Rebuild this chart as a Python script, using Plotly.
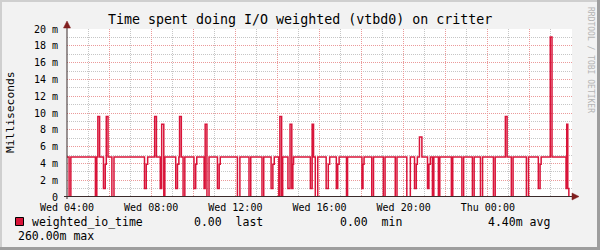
import plotly.graph_objects as go
import pandas as pd

# ---------------- data ----------------
START = "2024-01-03 04:00"  # a Wednesday
# step change points: minutes after start, value (milliseconds)
change_minutes = [
    0, 6, 11, 81, 85, 88, 93, 104, 109, 112, 117, 128, 134, 221, 226, 230, 250, 255,
    266, 270, 276, 279, 310, 315, 319, 321, 326, 331, 336, 362, 367, 370, 391, 394,
    399, 405, 429, 434, 437, 486, 493, 519, 524, 556, 561, 582, 587, 591, 604, 607,
    612, 615, 630, 636, 641, 644, 646, 694, 699, 703, 708, 715, 739, 745, 749, 768,
    772, 776, 797, 800, 841, 844, 847, 869, 874, 902, 907, 936, 941, 969, 979, 991,
    996, 999, 1005, 1012, 1028, 1032, 1036, 1042, 1046, 1059, 1063, 1096, 1100, 1126,
    1131, 1156, 1161, 1179, 1185, 1216, 1221, 1250, 1255, 1267, 1272, 1310, 1316,
    1344, 1349, 1352, 1378, 1383, 1423, 1425, 1428, 1431, 1440,
]
change_values = [
    4.75, 0, 4.75, 0, 4.75, 9.57, 4.75, 1.0, 3.9, 9.57, 4.75, 0, 4.75, 1.0, 3.9, 4.75, 9.57, 4.75,
    1.0, 8.65, 0, 4.75, 1.0, 3.9, 4.75, 9.57, 4.75, 0, 4.75, 1.0, 3.9, 4.75, 1.0, 8.65,
    0, 4.75, 1.0, 3.9, 4.75, 0, 4.75, 0, 4.75, 0, 4.75, 1.0, 3.9, 4.75, 0, 9.57,
    0, 4.75, 1.0, 8.65, 1.0, 3.9, 4.75, 1.0, 8.65, 4.75, 0, 4.75, 1.0, 3.9, 4.75, 1.0,
    3.9, 4.75, 0, 4.75, 1.0, 3.9, 4.75, 0, 4.75, 0, 4.75, 0, 4.75, 0, 4.75, 1.0,
    3.9, 4.75, 7.14, 4.75, 1.0, 3.9, 4.75, 0, 4.75, 0, 4.75, 0, 4.75, 0,
    4.75, 0, 4.75, 0, 4.75, 0, 4.75, 9.57, 4.75, 0, 4.75, 0, 4.75,
    1.0, 3.9, 4.75, 19.05, 4.75, 1.0, 8.65, 1.0, 0, 0,
]
x_tick_hours = [0, 2, 4, 6, 8, 10, 12, 14, 16, 18, 20, 22]
x_tick_labels = ["Wed 04:00", "", "Wed 08:00", "", "Wed 12:00", "", "Wed 16:00", "",
                 "Wed 20:00", "", "Thu 00:00", ""]
y_tick_values = [0, 2, 4, 6, 8, 10, 12, 14, 16, 18, 20]
y_tick_labels = ["0", "2 m", "4 m", "6 m", "8 m", "10 m", "12 m", "14 m", "16 m", "18 m", "20 m"]

series_name = "weighted_io_time"
stat_values = ["0.00", "0.00", "4.40m", "260.00m"]
stat_names = ["last", "min", "avg", "max"]

# ---------------- figure ----------------
W, H = 600, 250
ML, MR, MT, MB = 67, 28, 29, 53
PW, PH = W - ML - MR, H - MT - MB


def X(px):
    return (px - ML) / PW


def Y(py):
    return (H - MB - py) / PH


base = pd.Timestamp(START)
times = [base + pd.Timedelta(minutes=m) for m in change_minutes]

LINE_COL = "#d81439"
MONO = "DejaVu Sans Mono"
MGRID = "#eb9a9a"
GRID = "#c6c6c6"

fig = go.Figure()
fig.add_trace(go.Scatter(
    x=times, y=change_values, mode="lines",
    line=dict(color=LINE_COL, width=1.5, shape="hv"),
    hoverinfo="skip", showlegend=False,
))

fig.update_layout(
    width=W, height=H,
    margin=dict(l=ML, r=MR, t=MT, b=MB, pad=0),
    paper_bgcolor="#f2f2f2", plot_bgcolor="#ffffff",
    showlegend=False,
    font=dict(family=MONO, size=10, color="#000000"),
)

fig.update_xaxes(
    type="date",
    range=[base, base + pd.Timedelta(hours=24)],
    tickvals=[base + pd.Timedelta(hours=h) for h in x_tick_hours],
    ticktext=x_tick_labels,
    ticks="outside", ticklen=1, tickcolor="rgba(0,0,0,0)",
    showgrid=True, gridcolor=MGRID, griddash="1px,1px", gridwidth=1,
    minor=dict(dtick=3600000, tick0=base, showgrid=True, gridcolor=GRID,
               griddash="1px,1px", gridwidth=1),
    showline=False, zeroline=False,
    tickfont=dict(family=MONO, size=10, color="#000000"),
    fixedrange=True,
)
fig.update_yaxes(
    range=[0, 20],
    tickvals=y_tick_values, ticktext=y_tick_labels,
    ticks="outside", ticklen=6, tickcolor="rgba(0,0,0,0)",
    showgrid=True, gridcolor=MGRID, griddash="1px,1px", gridwidth=1,
    minor=dict(dtick=1, showgrid=True, gridcolor=GRID, griddash="1px,1px", gridwidth=1),
    showline=False, zeroline=False,
    tickfont=dict(family=MONO, size=10, color="#000000"),
    fixedrange=True,
)

shapes = []
# frame shading
shapes.append(dict(type="rect", xref="paper", yref="paper", x0=X(0), x1=X(600), y0=Y(2), y1=Y(0),
                   fillcolor="#cfcfcf", line=dict(width=0), layer="below"))
shapes.append(dict(type="rect", xref="paper", yref="paper", x0=X(0), x1=X(2), y0=Y(250), y1=Y(0),
                   fillcolor="#cfcfcf", line=dict(width=0), layer="below"))
shapes.append(dict(type="rect", xref="paper", yref="paper", x0=X(597), x1=X(600), y0=Y(250), y1=Y(0),
                   fillcolor="#9e9e9e", line=dict(width=0), layer="below"))
shapes.append(dict(type="rect", xref="paper", yref="paper", x0=X(0), x1=X(600), y0=Y(250), y1=Y(247),
                   fillcolor="#9e9e9e", line=dict(width=0), layer="below"))
# axes
AXIS = "#3a2a2a"
ARROW = "#801f1f"
shapes.append(dict(type="line", xref="paper", yref="paper", x0=X(67), x1=X(67), y0=Y(199), y1=Y(25),
                   line=dict(color=AXIS, width=1)))
shapes.append(dict(type="line", xref="paper", yref="paper", x0=X(64), x1=X(574), y0=Y(196.5), y1=Y(196.5),
                   line=dict(color=AXIS, width=1)))
# arrow heads
shapes.append(dict(type="path", xref="paper", yref="paper",
                   path=f"M {X(63.5)},{Y(28)} L {X(70.5)},{Y(28)} L {X(67)},{Y(21)} Z",
                   fillcolor=ARROW, line=dict(color=ARROW, width=0.5)))
shapes.append(dict(type="path", xref="paper", yref="paper",
                   path=f"M {X(572)},{Y(193)} L {X(572)},{Y(200)} L {X(579)},{Y(196.5)} Z",
                   fillcolor=ARROW, line=dict(color=ARROW, width=0.5)))
# legend swatch
shapes.append(dict(type="rect", xref="paper", yref="paper", x0=X(15.5), x1=X(23.5), y0=Y(225.5), y1=Y(217.5),
                   fillcolor=LINE_COL, line=dict(color="#000000", width=1)))
fig.update_layout(shapes=shapes)

NB = "\u00a0"
ann = []
ann.append(dict(text="Time spent doing I/O weighted (vtbd0) on critter", x=X(300), y=Y(19),
                xanchor="center", yanchor="middle", font=dict(family=MONO, size=13.3, color="#000000")))
ann.append(dict(text="Milliseconds", x=X(10.5), y=Y(112.5), textangle=-90,
                xanchor="center", yanchor="middle", font=dict(family=MONO, size=11.3, color="#000000")))
ann.append(dict(text="RRDTOOL / TOBI OETIKER", x=X(591), y=Y(60), textangle=90,
                xanchor="center", yanchor="middle", font=dict(family=MONO, size=8, color="#b4b4b4")))
LF = dict(family=MONO, size=11.5, color="#000000")
ann.append(dict(text=series_name, x=X(29.5), y=Y(222), xanchor="left", yanchor="middle", font=LF))
ann.append(dict(text=stat_values[0] + NB * 2 + stat_names[0], x=X(191.5), y=Y(222), xanchor="left", yanchor="middle", font=LF))
ann.append(dict(text=stat_values[1] + NB * 2 + stat_names[1], x=X(338), y=Y(222), xanchor="left", yanchor="middle", font=LF))
ann.append(dict(text=stat_values[2] + NB + stat_names[2], x=X(485.5), y=Y(222), xanchor="left", yanchor="middle", font=LF))
ann.append(dict(text=stat_values[3] + NB + stat_names[3], x=X(15.5), y=Y(236), xanchor="left", yanchor="middle", font=LF))
for a in ann:
    a.update(xref="paper", yref="paper", showarrow=False)
fig.update_layout(annotations=ann)

fig.write_html("out.html")
